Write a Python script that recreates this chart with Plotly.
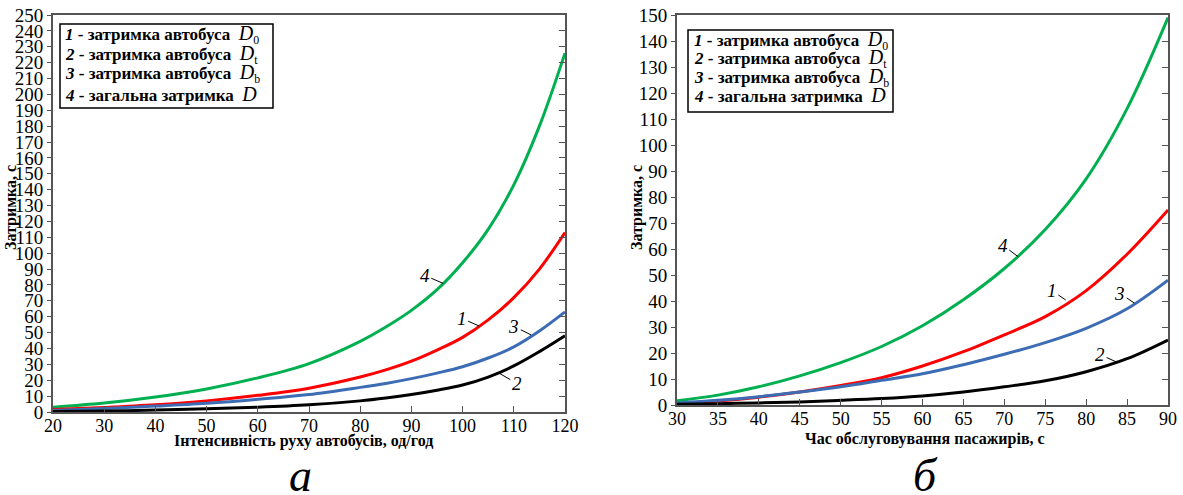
import plotly.graph_objects as go

# ---- Left chart (а): delay vs bus flow intensity ----
xa = [20, 30, 40, 50, 60, 70, 80, 85, 90, 95, 100, 105, 110, 115, 120]
a_d0 = [1.5, 2.8, 4.5, 7, 10.5, 15, 22, 26.5, 32, 39, 47, 58, 72, 90, 113]
a_dt = [0.3, 0.6, 1.2, 2, 3, 4.5, 7, 8.8, 11, 13.7, 17, 22, 29, 38, 48]
a_db = [1, 2.2, 3.7, 5.5, 8, 11, 15.5, 18, 21, 24.5, 28.5, 34, 41, 51, 63]
a_d = [3, 5.6, 9.4, 14.5, 21.5, 30.5, 44.5, 53.5, 64, 77, 94, 115, 143, 180, 226]

# ---- Right chart (б): delay vs passenger service time ----
xb = [30, 35, 40, 45, 50, 55, 60, 65, 70, 75, 80, 85, 90]
b_d0 = [0.5, 1.5, 3, 5, 7.5, 10.5, 15, 20.5, 27, 34, 44, 58, 75]
b_dt = [0.3, 0.5, 0.8, 1.2, 1.8, 2.5, 3.5, 5, 7, 9.3, 12.8, 17.8, 25]
b_db = [0.8, 1.8, 3.2, 5, 7, 9.5, 12, 15.5, 19.5, 24, 29.5, 37, 48]
b_d = [1.6, 3.8, 7, 11.2, 16.3, 22.5, 30.5, 40.5, 52.5, 67.5, 87, 114, 149]

xa_ticks = list(range(20, 121, 10))
ya_ticks = list(range(0, 251, 10))
xb_ticks = list(range(30, 91, 5))
yb_ticks = list(range(0, 151, 10))

legend_nums = ["1", "2", "3", "4"]
legend_texts = ["затримка автобуса", "затримка автобуса", "затримка автобуса", "загальна затримка"]
legend_subs = ["0", "t", "b", ""]

# curve labels: (text, point x, point y, label x, label y)
a_labels = [("4", 96.2, 81, 92.6, 86), ("1", 103.2, 54.2, 99.8, 59),
            ("3", 113.4, 48.5, 110, 54), ("2", 107.1, 24.5, 110.6, 18)]
b_labels = [("4", 71.7, 57, 69.8, 61.5), ("1", 77.5, 40.4, 75.8, 44),
            ("3", 85.9, 39.2, 84.1, 43), ("2", 83.8, 16.4, 81.7, 19.4)]

GREEN = "#00b050"
RED = "#ff0000"
BLUE = "#3c6cb4"
BLACK = "#000000"
FONT = "Liberation Serif, Times New Roman, DejaVu Serif, serif"
W, H = 1183, 495

fig = go.Figure()

def add_series(x, ys, xr, yr, yr2):
    for y, c in zip(ys, [GREEN, RED, BLUE]):
        fig.add_trace(go.Scatter(x=x, y=y, mode="lines", line=dict(color=c, width=3, shape="spline"),
                                 xaxis=xr, yaxis=yr, showlegend=False, hoverinfo="skip"))
    fig.add_trace(go.Scatter(x=x, y=ys[3], mode="lines", line=dict(color=BLACK, width=3, shape="spline"),
                             xaxis=xr, yaxis=yr2, showlegend=False, hoverinfo="skip"))

add_series(xa, [a_d, a_d0, a_db, a_dt], "x", "y", "y3")
add_series(xb, [b_d, b_d0, b_db, b_dt], "x2", "y2", "y4")

def px_x(p):
    return p / W

def px_y(p):
    return 1 - p / H

axis_common = dict(showgrid=False, zeroline=False, linecolor="#555555", linewidth=2,
                   automargin=False, tickcolor="#555555")
xfont = dict(family=FONT, size=18, color="black")
yfont = dict(family=FONT, size=19, color="black")

dom_xa = [px_x(53), px_x(565)]
dom_ya = [px_y(412), px_y(15)]
dom_xb = [px_x(677), px_x(1168)]
dom_yb = [px_y(405), px_y(15)]

fig.update_layout(
    width=W, height=H, margin=dict(l=0, r=0, t=0, b=0, autoexpand=False),
    paper_bgcolor="white", plot_bgcolor="white", font=dict(family=FONT),
    xaxis=dict(domain=dom_xa, range=[20, 120], tickvals=xa_ticks, ticks="inside", ticklen=6,
               mirror=True, anchor="y", tickfont=xfont, ticklabelstandoff=-4, **axis_common),
    yaxis=dict(domain=dom_ya, range=[0, 250], tickvals=ya_ticks, ticks="outside", ticklen=4,
               mirror=True, anchor="x", tickfont=yfont, **axis_common),
    yaxis3=dict(range=[0, 250], tickvals=ya_ticks, ticks="inside", ticklen=6, overlaying="y",
                side="right", anchor="x", showticklabels=False, showline=False, showgrid=False,
                zeroline=False, tickcolor="#555555", automargin=False),
    xaxis2=dict(domain=dom_xb, range=[30, 90], tickvals=xb_ticks, ticks="inside", ticklen=6,
                mirror=True, anchor="y2", tickfont=xfont, ticklabelstandoff=-4, **axis_common),
    yaxis2=dict(domain=dom_yb, range=[0, 150], tickvals=yb_ticks, ticks="outside", ticklen=4,
                mirror=True, anchor="x2", tickfont=yfont, **axis_common),
    yaxis4=dict(range=[0, 150], tickvals=yb_ticks, ticks="inside", ticklen=6, overlaying="y2",
                side="right", anchor="x2", showticklabels=False, showline=False, showgrid=False,
                zeroline=False, tickcolor="#555555", automargin=False),
)

ann = []
shapes = []

# legend boxes: (left, top, right, bottom, line centres y, text x)
legend_boxes = [(60, 24, 273, 108, [34, 54, 74, 94], 63),
                (688, 30, 893, 112, [41, 59, 77, 95], 692)]
for (l, t, r, b, ys, tx) in legend_boxes:
    shapes.append(dict(type="rect", xref="paper", yref="paper", x0=px_x(l), x1=px_x(r),
                       y0=px_y(b), y1=px_y(t), line=dict(color="black", width=1.5),
                       fillcolor="white", layer="above"))
    for n, txt, s, yy in zip(legend_nums, legend_texts, legend_subs, ys):
        sub = f"<sub>{s}</sub>" if s else ""
        html = (f"<i><b>{n}</b></i><b> - {txt}</b>  "
                f"<span style='font-size:20px'><i>D</i></span>{sub}")
        ann.append(dict(xref="paper", yref="paper", x=px_x(tx), y=px_y(yy), xanchor="left",
                        yanchor="middle", text=html, showarrow=False, align="left",
                        font=dict(family=FONT, size=17, color="black")))

for labels, xr, yr in [(a_labels, "x", "y"), (b_labels, "x2", "y2")]:
    for t, x, y, lx, ly in labels:
        ann.append(dict(xref=xr, yref=yr, x=x, y=y, ax=lx, ay=ly, axref=xr, ayref=yr,
                        text=f"<i>{t}</i>", showarrow=True, arrowhead=0, arrowwidth=1,
                        arrowcolor="black", standoff=0,
                        font=dict(family=FONT, size=19, color="black")))

# axis titles
title_font = dict(family=FONT, size=16, color="black")
for x, y, t, ang in [(11, 208, "Затримка, с", -90), (637, 208, "Затримка, с", -90),
                     (303, 441, "Інтенсивність руху автобусів, од/год", 0),
                     (925, 439, "Час обслуговування пасажирів, с", 0)]:
    ann.append(dict(xref="paper", yref="paper", x=px_x(x), y=px_y(y), xanchor="center", yanchor="middle",
                    text=f"<b>{t}</b>", textangle=ang, showarrow=False, font=title_font))

for x, y, t in [(300, 503, "а"), (925, 503, "б")]:
    ann.append(dict(xref="paper", yref="paper", x=px_x(x), y=px_y(y), xanchor="center", yanchor="bottom",
                    text=f"<i>{t}</i>", showarrow=False, font=dict(family=FONT, size=46, color="black")))

fig.update_layout(annotations=ann, shapes=shapes)
fig.write_html("out.html", config={"displayModeBar": False},
               post_script="document.body.style.margin='0px';document.body.style.overflow='hidden';")
